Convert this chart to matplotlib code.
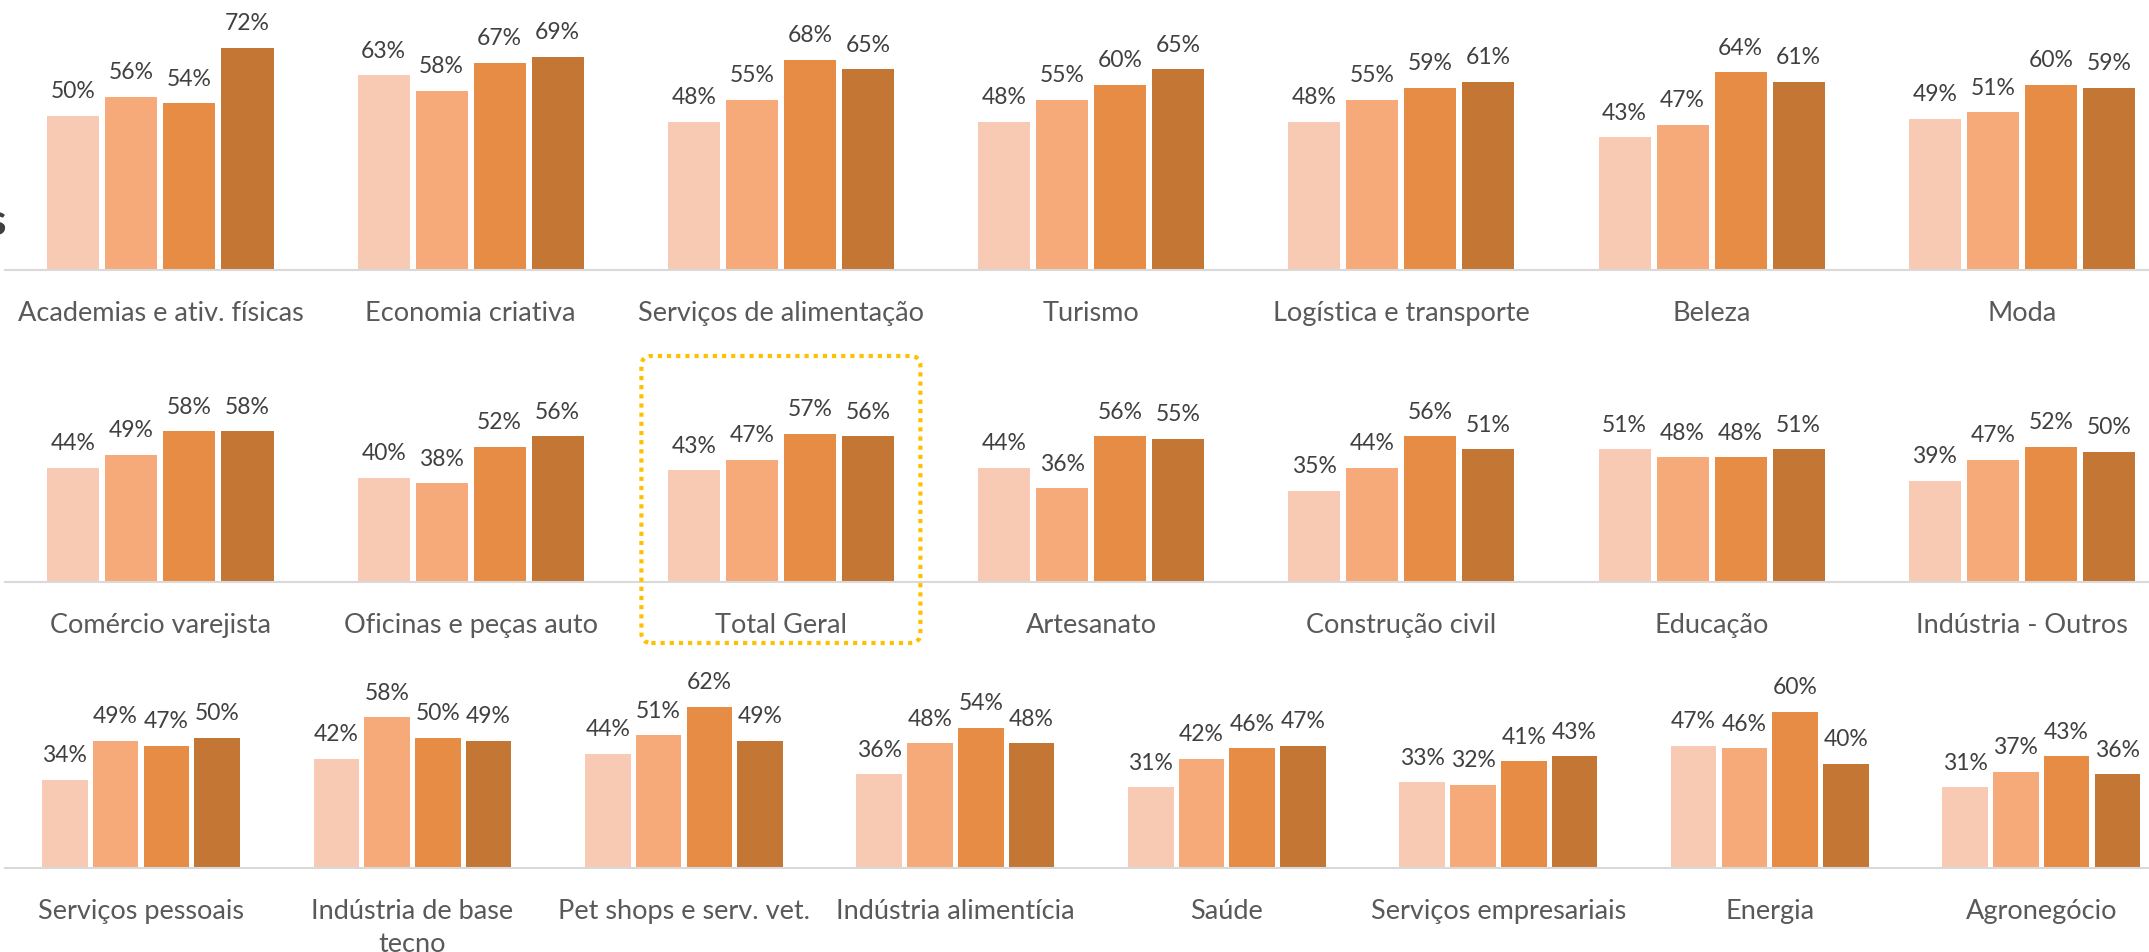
import numpy as np
import matplotlib
matplotlib.use("Agg")
import matplotlib.pyplot as plt
from matplotlib.patches import FancyBboxPatch
from matplotlib.transforms import IdentityTransform


# ==========================================================
# DATA (percent)
# ==========================================================
row1_cats = ["Academias e ativ. físicas", "Economia criativa", "Serviços de alimentação",
             "Turismo", "Logística e transporte", "Beleza", "Moda"]
row1_a = [50, 63, 48, 48, 48, 43, 49]
row1_b = [56, 58, 55, 55, 55, 47, 51]
row1_c = [54, 67, 68, 60, 59, 64, 60]
row1_d = [72, 69, 65, 65, 61, 61, 59]

row2_cats = ["Comércio varejista", "Oficinas e peças auto", "Total Geral", "Artesanato",
             "Construção civil", "Educação", "Indústria - Outros"]
row2_a = [44, 40, 43, 44, 35, 51, 39]
row2_b = [49, 38, 47, 36, 44, 48, 47]
row2_c = [58, 52, 57, 56, 56, 48, 52]
row2_d = [58, 56, 56, 55, 51, 51, 50]

row3_cats = ["Serviços pessoais", "Indústria de base\ntecno", "Pet shops e serv. vet.",
             "Indústria alimentícia", "Saúde", "Serviços empresariais", "Energia", "Agronegócio"]
row3_a = [34, 42, 44, 36, 31, 33, 47, 31]
row3_b = [49, 58, 51, 48, 42, 32, 46, 37]
row3_c = [47, 50, 62, 54, 46, 41, 60, 43]
row3_d = [50, 49, 49, 48, 47, 43, 40, 36]

highlight = "Total Geral"

# ==========================================================
# STYLE
# ==========================================================
W, H, DPI = 2149, 953, 100
colors = ["#F8CAB3", "#F6AA7A", "#E68C44", "#C47635"]
value_color = "#404040"
cat_color = "#595959"
plt.rcParams["font.family"] = ["Lato", "DejaVu Sans"]

fig = plt.figure(figsize=(W / DPI, H / DPI), dpi=DPI)

# baseline y (px from top) and px per unit for each row
rows = [
    (row1_cats, [row1_a, row1_b, row1_c, row1_d], 271, 309),
    (row2_cats, [row2_a, row2_b, row2_c, row2_d], 583, 260),
    (row3_cats, [row3_a, row3_b, row3_c, row3_d], 869, 260),
]
x_left, x_right = 5.3, 2177
ymax = 0.8
step = 0.187
bar_w = 0.168

axes = []
for cats, series, base_px, scale in rows:
    h_px = ymax * scale
    ax = fig.add_axes([x_left / W, (H - base_px) / H, (x_right - x_left) / W, h_px / H])
    n = len(cats)
    x = np.arange(n)
    for k, vals in enumerate(series):
        pos = x + (k - 1.5) * step
        v = np.array(vals) / 100
        ax.bar(pos, v, width=bar_w, color=colors[k], zorder=2)
        for p, val in zip(pos, vals):
            ax.annotate(f"{val}%", xy=(p, val / 100), xytext=(0, 10.5),
                        textcoords="offset points", ha="center", va="bottom",
                        fontsize=16.5, color=value_color)
    for i, c in enumerate(cats):
        ax.annotate(c, xy=(i, 0), xycoords=("data", "axes fraction"),
                    xytext=(0, -21.5), textcoords="offset points", ha="center",
                    va="top", fontsize=19.5, color=cat_color, linespacing=1.4)
    ax.set_xlim(-0.5, n - 0.5)
    ax.set_ylim(0, ymax)
    ax.set_xticks([])
    ax.set_yticks([])
    for s in ["top", "left", "right"]:
        ax.spines[s].set_visible(False)
    ax.spines["bottom"].set_color("#D9D9D9")
    ax.spines["bottom"].set_linewidth(1.5)
    ax.patch.set_alpha(0)
    axes.append(ax)

# --- dotted highlight box around "Total Geral" ---
ax2 = axes[1]
i_hl = row2_cats.index(highlight)
cx, cy = ax2.transData.transform((i_hl, 0))
box_w, box_top, box_bot = 279, 226, 61
box = FancyBboxPatch((cx - box_w / 2, cy - box_bot), box_w, box_top + box_bot,
                     boxstyle="round,pad=0,rounding_size=10",
                     transform=IdentityTransform(), fill=False,
                     edgecolor="#FFC000", linewidth=3.0, linestyle=(0, (1, 1.2)))
fig.add_artist(box)

# --- cut-off title letter on the left edge ---
fig.text(6 / W, 1 - 235 / H, "s", ha="right", va="baseline", fontsize=32,
         fontweight="bold", color="#404040")

fig.savefig("out.png", dpi=DPI)
